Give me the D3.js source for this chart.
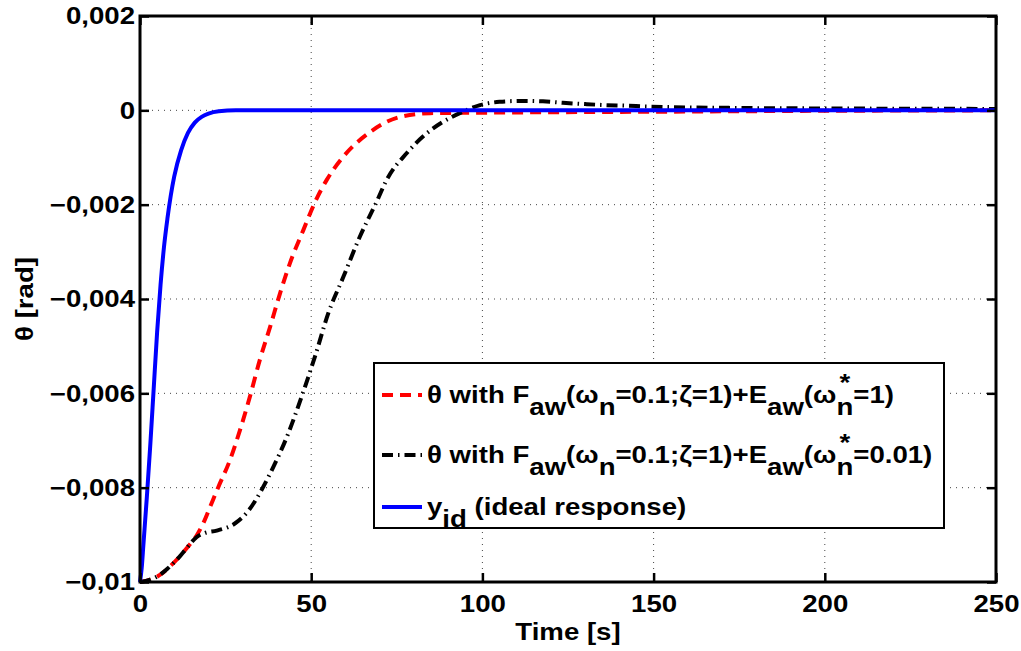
<!DOCTYPE html>
<html><head><meta charset="utf-8">
<script src="https://cdn.jsdelivr.net/npm/d3@7"></script>
<style>
html,body{margin:0;padding:0;background:#fff;}
text{font-family:"Liberation Sans",Arial,Helvetica,sans-serif;font-weight:bold;}
</style></head>
<body><svg id="c" width="1021" height="651"></svg>
<script>
const xTicks = [0, 50, 100, 150, 200, 250];
const yTicks = [0.002, 0, -0.002, -0.004, -0.006, -0.008, -0.01];
const yTickLabels = ["0,002", "0", "\u22120,002", "\u22120,004", "\u22120,006", "\u22120,008", "\u22120,01"];

const tIdeal = [0, 0.5, 1, 2, 3, 4, 5, 6, 7, 8, 9, 10, 12, 14, 16, 18, 20, 23, 28, 250];
const yIdeal = [-0.01, -0.0097, -0.0092, -0.0082, -0.0071, -0.0059, -0.0047, -0.0037, -0.0029, -0.0023, -0.0018, -0.0014, -0.00085, -0.00048, -0.00026, -0.00014, -0.00007, -0.00002, 0, 0];

const tRed = [0, 3, 5.8, 8, 11.7, 14, 16.5, 18.5, 20.4, 22.8, 26.3, 29.2, 32.1, 35, 38, 40.9, 43.8, 47.7, 51.6, 54.5, 59.3, 67.2, 75, 84.7, 100, 150, 200, 250];
const yRed = [-0.01, -0.00995, -0.00985, -0.00972, -0.00945, -0.00925, -0.00902, -0.00875, -0.00842, -0.008, -0.00741, -0.00678, -0.00607, -0.00529, -0.00459, -0.00388, -0.00324, -0.00254, -0.00187, -0.00148, -0.00099, -0.00046, -0.00016, -0.00006, -0.00005, -0.00003, -0.00001, 0];

const tBlack = [0, 3, 5.8, 8, 11.7, 14, 16.5, 19, 22.4, 27.7, 31.1, 35.5, 38, 43.3, 47.2, 51.1, 55, 59.4, 64.2, 69.1, 72, 78, 83.7, 88.6, 93.4, 99.3, 105, 111.8, 117.7, 123.5, 130.5, 136.4, 142, 148, 175, 200, 250];
const yBlack = [-0.01, -0.00995, -0.00985, -0.00972, -0.00945, -0.00925, -0.00905, -0.00896, -0.00891, -0.00876, -0.00854, -0.00805, -0.0077, -0.00685, -0.00607, -0.00522, -0.0043, -0.00353, -0.00268, -0.00194, -0.00148, -0.0009, -0.00049, -0.00024, -0.00006, 0.00011, 0.00018, 0.0002, 0.00019, 0.00016, 0.00013, 0.00011, 0.0001, 0.00008, 0.00005, 0.00004, 0.00003];

const FS = 24, SX = 1.15;
const svg = d3.select("#c");
const L = 140, R = 996, T = 16, B = 582;
const x = d3.scaleLinear().domain([0, 250]).range([L, R]);
const y = d3.scaleLinear().domain([-0.01, 0.002]).range([B, T]);

function stretch(sel, base) {
  sel.each(function () {
    const el = d3.select(this);
    const ax = +(el.attr("x") || 0);
    el.attr("transform", (base || "") + ` translate(${ax * (1 - SX)},0) scale(${SX},1)`);
  });
}

// grid
const g = svg.append("g");
g.selectAll(".gx").data(xTicks.slice(1, -1)).enter().append("line")
  .attr("x1", d => x(d)).attr("x2", d => x(d)).attr("y1", T).attr("y2", B)
  .attr("stroke", "#444").attr("stroke-width", 1).attr("stroke-dasharray", "1,5");
g.selectAll(".gy").data(yTicks.slice(1, -1)).enter().append("line")
  .attr("x1", L).attr("x2", R).attr("y1", d => y(d)).attr("y2", d => y(d))
  .attr("stroke", "#444").attr("stroke-width", 1).attr("stroke-dasharray", "1,5");

const line = (ts, ys) => d3.line().x((d, i) => x(ts[i])).y((d, i) => y(ys[i])).curve(d3.curveMonotoneX)(ts);

svg.append("path").attr("d", line(tRed, yRed)).attr("fill", "none")
  .attr("stroke", "#ff0000").attr("stroke-width", 4).attr("stroke-dasharray", "11,7");
svg.append("path").attr("d", line(tBlack, yBlack)).attr("fill", "none")
  .attr("stroke", "#000").attr("stroke-width", 4).attr("stroke-dasharray", "11,5,1.5,5");
svg.append("path").attr("d", line(tIdeal, yIdeal)).attr("fill", "none")
  .attr("stroke", "#0000ff").attr("stroke-width", 4);

// axes
const xAxis = d3.axisBottom(x).tickValues(xTicks).tickSizeInner(-9).tickSizeOuter(0).tickPadding(13);
const yAxis = d3.axisLeft(y).tickValues(yTicks).tickSizeInner(-9).tickSizeOuter(0).tickPadding(-4)
  .tickFormat((d, i) => yTickLabels[i]);
const xa = svg.append("g").attr("transform", `translate(0,${B})`).call(xAxis);
const ya = svg.append("g").attr("transform", `translate(${L},0)`).call(yAxis);
const xaT = svg.append("g").attr("transform", `translate(0,${T})`).call(d3.axisTop(x).tickValues(xTicks).tickSizeInner(-9).tickSizeOuter(0).tickFormat(""));
const yaR = svg.append("g").attr("transform", `translate(${R},0)`).call(d3.axisRight(y).tickValues(yTicks).tickSizeInner(-9).tickSizeOuter(0).tickFormat(""));
[xa, ya, xaT, yaR].forEach(a => {
  a.select(".domain").remove();
  a.selectAll(".tick line").attr("stroke", "#000").attr("stroke-width", 2.5);
  a.selectAll("text").attr("fill", "#000").attr("font-size", FS).style("font-family", '"Liberation Sans",Arial,sans-serif').style("font-weight", "bold");
});
ya.selectAll(".tick text").attr("x", -5);
stretch(xa.selectAll(".tick text"));
stretch(ya.selectAll(".tick text"));
svg.append("rect").attr("x", L).attr("y", T).attr("width", R - L).attr("height", B - T)
  .attr("fill", "none").attr("stroke", "#000").attr("stroke-width", 3);

// axis labels
const xl = svg.append("text").attr("x", (L + R) / 2).attr("y", 640).attr("text-anchor", "middle")
  .attr("font-size", FS).text("Time [s]");
stretch(xl);
const yl = svg.append("text").attr("text-anchor", "middle")
  .attr("font-size", FS).text("\u03b8 [rad]");
stretch(yl, "translate(33,299) rotate(-90)");

// legend
const lg = svg.append("g");
lg.append("rect").attr("x", 374).attr("y", 363).attr("width", 570).attr("height", 165)
  .attr("fill", "#fff").attr("stroke", "#000").attr("stroke-width", 2);
const legendItems = [
  {y: 395, stroke: "#ff0000", dash: "11,7", parts: [["\u03b8 with F", 0], ["aw", 1], ["(\u03c9", 0], ["n", 1], ["=0.1;\u03b6=1)+E", 0], ["aw", 1], ["(\u03c9", 0], ["*", 2], ["n", 3], ["=1)", 0]]},
  {y: 455, stroke: "#000", dash: "11,5,1.5,5", parts: [["\u03b8 with F", 0], ["aw", 1], ["(\u03c9", 0], ["n", 1], ["=0.1;\u03b6=1)+E", 0], ["aw", 1], ["(\u03c9", 0], ["*", 2], ["n", 3], ["=0.01)", 0]]},
  {y: 507, stroke: "#0000ff", dash: null, parts: [["y", 0], ["id", 1], [" (ideal response)", 0]]}
];
legendItems.forEach(it => {
  lg.append("line").attr("x1", 382).attr("x2", 422).attr("y1", it.y).attr("y2", it.y)
    .attr("stroke", it.stroke).attr("stroke-width", 4).attr("stroke-dasharray", it.dash);
  const t = lg.append("text").attr("x", 427).attr("y", it.y + 8).attr("font-size", FS);
  let prev = 0;
  it.parts.forEach(([s, k]) => {
    const ts = t.append("tspan").text(s);
    if (k === 1) { ts.attr("dy", 12 - prev); prev = 12; }
    else if (k === 2) { ts.attr("dy", -12 - prev).attr("dx", 2.7); prev = -12; }
    else if (k === 3) { ts.attr("dy", 12 - prev).attr("dx", -12); prev = 12; }
    else { ts.attr("dy", -prev); prev = 0; }
  });
  stretch(t);
});
</script></body></html>
